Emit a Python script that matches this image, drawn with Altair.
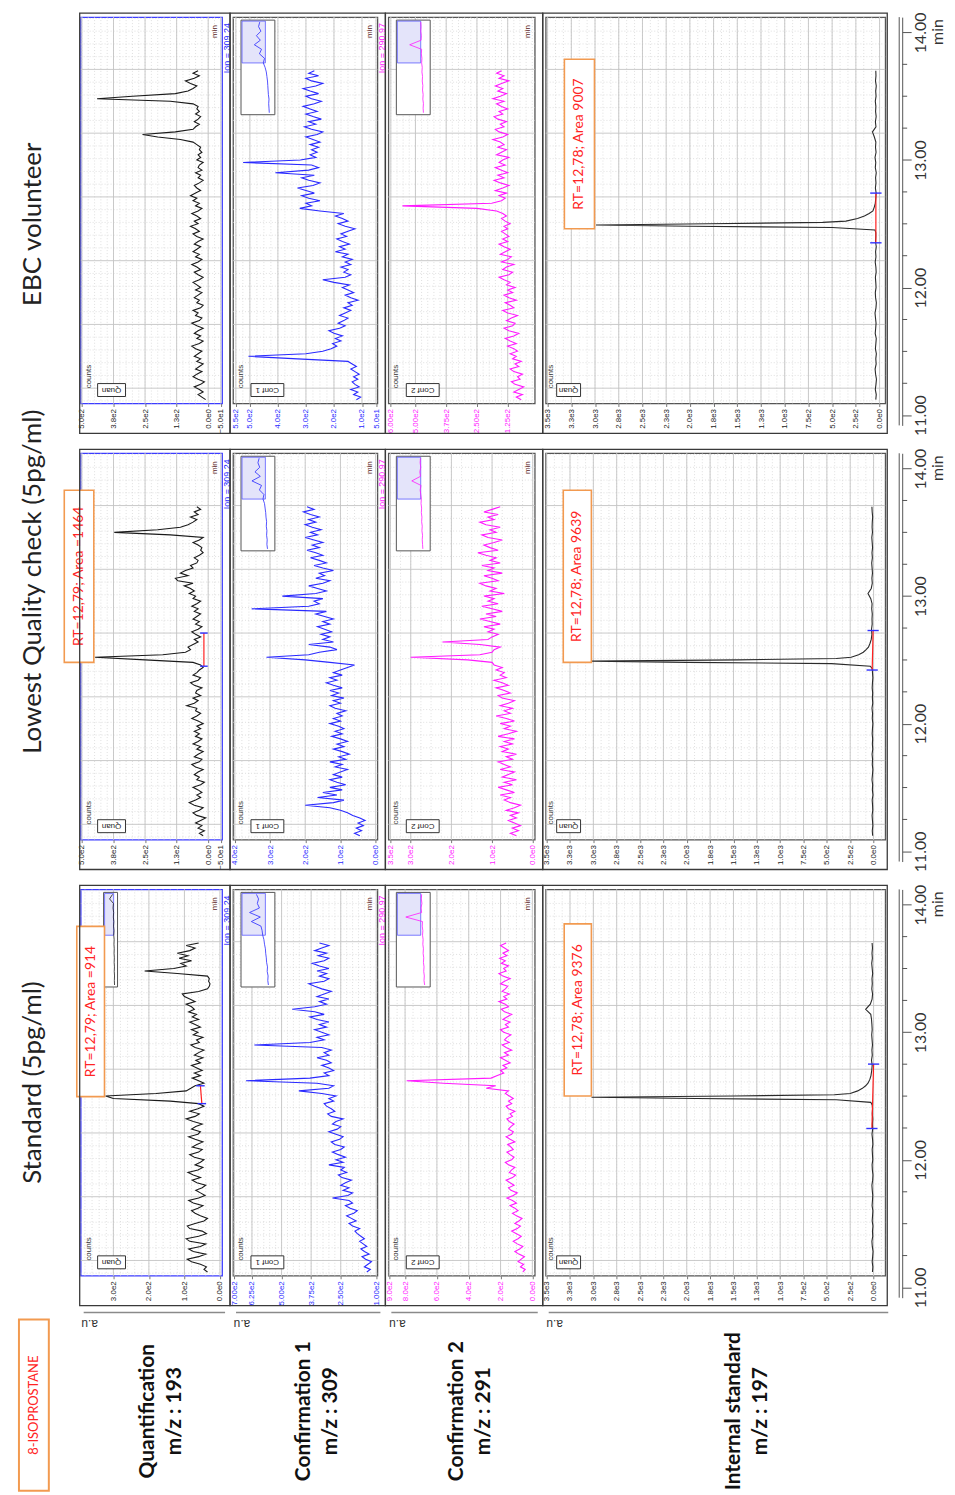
import math
import altair as alt
import pandas as pd

# ---------------- data ----------------
T0, DT = 11.12, 0.02   # sampling grid of the noisy traces (min)

STD_QUAN = [35,45,38,55,80,92,60,40,75,88, 55,40,85,95,60,38,50,85,92,70,
            45,35,55,70,80,62,48,75,88,60, 42,55,68,50,40,65,78,55,75,90,
            62,48,70,55,45,72,85,60,50,78, 65,48,70,88,62,55,80,68,50,75,
            95,70,58,85,62,45,60,140,300,322, 180,95,82,70,45,60,78,55,72,50,
            65,80,55,68,48,72,60,45,70,82, 58,66,48,75,62,80,55,70,85,60,
            78,66,88,72,80,95,70,85,100,106, 60,35,30,28,32,30,35,120,212,130,
            95,110,80,115,90,120,85,70,95,60]
STD_CONF1 = [140,125,150,135,120,145,160,130,150,165,140,155,170,150,165,180,
             190,170,200,215,185,205,225,195,180,210,230,200,215,285,
             220,200,240,215,250,230,205,245,260,225,250,235,300,
             240,270,230,260,285,250,235,275,290,255,240,270,300,265,250,285,270,240,290,305,275,290,310,320,
             280,300,270,330,427,300,280,350,650,380,300,320,280,
             300,330,290,310,350,300,320,290,330,
             615,380,320,350,300,330,360,310,340,300,350,380,320,360,455,360,310,340,300,350,
             320,290,330,360,385,320,300,340,310,350,300,340,370,320,300,345,310,360,330,300,340]
STD_CONF2 = [60,45,75,55,90,70,50,85,110,80,60,95,120,90,70,100,130,95,75,110,85,65,100,125,90,
             110,140,100,125,160,120,95,135,150,115,140,165,125,105,145,130,110,150,170,130,
             115,140,160,120,135,155,110,140,165,130,120,150,135,115,145,160,125,140,110,150,
             165,130,150,120,145,170,150,290,230,560,790,260,220,180,200,
             160,185,140,170,200,150,175,130,165,190,145,175,160,135,180,200,150,170,140,185,
             160,130,175,195,150,170,210,160,180,145,190,170,155,200,175,140,185,210,165,180,
             150,195,170,205,160,185,150,175,200,165]

LQC_QUAN = [20,35,15,40,25,50,30,10,45,60,35,20,55,75,50,30,45,25,40,60,30,15,45,35,55,
            40,20,50,65,35,25,55,40,20,45,30,60,40,25,50,35,55,30,45,20,40,65,45,30,50,
            45,85,55,40,60,30,50,45,25,55,70,40,30,60,45,35,20,
            30,60,250,448,180,90,70,80,
            60,40,55,30,50,65,40,25,50,35, 60,45,30,55,40,65,45,30,60,50,
            75,55,70,95,60,120,130,80,110,90, 60,70,45,40,55,35,20,30,25,40,
            60,35,20,150,372,200,110,80,60,45, 70,40,55,30,45]
LQC_CONF1 = [45,60,40,55,35,50,30,45,65,80, 100,130,200,120,90,165,110,150,95,130,
             85,110,130,95,120,100,80,115,95,130, 85,105,75,95,120,90,110,80,100,125,
             95,115,90,105,130,100,120,95,110,85, 115,130,100,120,90,125,105,130,95,120,
             140,110,130,95,120,100,80,60,130,200, 310,190,160,110,130,190,120,150,130,155,
             125,145,165,130,150,120,145,170,140,352, 190,160,175,150,265,170,140,165,190,150,
             130,170,145,160,120,150,175,140,160,185, 150,170,195,160,180,150,175,200,165,185,
             155,180,200,170,190,160,185,205,175,195]
LQC_CONF2 = [40,55,35,50,30,45,60,40,55,35,65,45,30,55,70,
             55,80,45,65,85,50,70,40,75,60,45,80,55,70,85,50,65,40,75,60,80,50,70,45,85,
             60,40,70,55,80,45,65,90,55,70,50,80,60,45,75,85,55,70,90,60,75,95,65,80,70,
             90,75,95,100,160,300,130,100,95,80,130,222,110,100,85,
             110,95,120,80,105,130,90,115,75,100,125,85,110,95,120,70,105,90,115,130,
             85,100,120,75,110,95,125,80,105,90,115,135,85,105,120,95,75,110,125,90,
             105,80,115,130,95,110,85,120,100,80]

EBC_QUAN = [10,25,40,20,35,55,30,15,40,60,45,25,50,35,20,45,30,55,40,25,50,65,35,20,45,
            30,55,40,20,45,65,35,25,50,40,60,30,20,45,35,55,40,25,50,30,
            45,60,35,20,40,55,30,45,65,40,25,50,35,60,45,30,55,40,20,45,
            60,35,50,70,40,55,30,45,65,40,25,50,35,60,45,70,50,30,45,55,
            35,20,40,30,50,25,40,35,20,45,30,40,25,35,30,
            45,60,110,200,260,130,60,50,35,55,40,30,50,35,45,40,60,150,440,300,
            130,80,60,45,70,90,55,35,60,40]
EBC_CONF1 = [120,105,130,115,140,110,125,135,115,130,110,125,140,120,135,150,
             330,505,300,240,210,190,205,175,195,170,200,218,180,160,185,165,150,180,160,
             140,165,135,150,114,140,160,130,150,170,145,200,240,160,140,165,150,175,140,160,135,
             170,150,195,160,180,145,170,190,155,
             175,150,125,160,185,150,170,195,165,
             250,322,280,300,250,290,315,270,300,330,275,250,290,315,270,409,290,255,280,524,
             320,265,285,260,280,255,285,250,275,300,260,240,280,305,265,290,245,275,300,260,
             285,310,270,245,280,300,255,285,310,265,240,280,300,255,290,270]
EBC_CONF2 = [70,90,65,100,80,60,95,110,75,85,65,100,115,80,95,70,105,90,115,85,
             100,125,90,115,135,100,80,120,140,105,95,130,110,85,125,145,100,115,135,90,120,140,105,125,95,130,
             115,140,160,120,105,145,130,100,150,125,110,155,135,115,140,160,125,145,120,135,150,
             125,140,115,135,150,130,145,170,250,553,190,150,135,
             160,130,175,145,120,155,180,140,165,125,150,175,135,160,145,120,170,150,130,165,
             140,155,185,145,125,160,175,140,155,130,165,180,145,160,125,150,170,140,185,155,
             130,165,145,175,150,120,160,140,170,150]

IS_TIME = [11.12, 11.16, 11.20, 11.24, 11.28, 11.32, 11.36, 11.40, 11.44, 11.48, 11.52,
           11.56, 11.60, 11.64, 11.68, 11.72, 11.76, 11.80, 11.84, 11.88, 11.92, 11.96,
           12.00, 12.04, 12.08, 12.12, 12.16, 12.20, 12.24, 12.28, 12.32, 12.36, 12.40,
           12.43, 12.45, 12.47, 12.48, 12.49, 12.50, 12.51, 12.52, 12.54, 12.56, 12.58,
           12.60, 12.63, 12.66,
           12.70, 12.74, 12.78, 12.82, 12.86, 12.90, 12.94, 12.98, 13.02, 13.06, 13.10,
           13.14, 13.18, 13.22, 13.26, 13.30, 13.34, 13.38, 13.42, 13.46, 13.50, 13.54,
           13.58, 13.62, 13.66, 13.70]
STD_IS = [12,8,15,10,6,14,18,9,12,7,15,11,8,16,12,9,14,18,10,7,13,16,9,12,15,8,11,17,10,13,9,14,11,
          15,30,400,1900,3020,1500,420,250,170,120,85,60,40,28,
          20,15,22,14,18,12,16,20,15,18,22,30,85,35,16,11,19,14,17,10,15,20,13,17,12,16]
LQC_IS = [10,14,8,12,16,9,11,15,7,13,10,17,12,8,14,11,16,9,13,10,15,12,8,14,11,17,9,13,10,15,12,8,12,
          14,35,450,2000,3020,1450,400,240,160,110,80,55,38,25,
          18,22,15,17,14,20,16,30,60,25,14,18,12,16,20,13,17,11,15,19,12,16,14,10,15,18]
EBC_IS = [40,35,45,38,33,42,47,36,40,34,44,39,35,46,41,37,43,48,38,34,42,45,37,40,44,36,39,46,38,42,35,43,40,
          40,48,500,2000,2990,1800,600,355,232,160,110,70,56,45,
          40,36,44,38,42,35,45,40,48,37,43,39,55,75,38,44,36,42,39,45,37,41,35,43,38,40]

# overview insets: fraction of the overview run (0 = start) and relative intensity
INSET_T = [0.0, 0.05, 0.1, 0.15, 0.2, 0.25, 0.3, 0.35, 0.4, 0.45, 0.5,
           0.55, 0.6, 0.65, 0.7, 0.75, 0.8, 0.85, 0.9, 0.95, 1.0]
INS_STD_QUAN = [0.10,0.12,0.10,0.13,0.11,0.14,0.12,0.15,0.13,0.16,0.14,0.18,0.15,0.20,0.17,0.22,0.19,0.25,0.21,0.60,0.30]
INS_STD_C1 = [0.15,0.17,0.16,0.19,0.18,0.21,0.22,0.24,0.25,0.28,0.30,0.34,0.36,0.40,0.72,0.42,0.78,0.45,0.52,0.48,0.55]
INS_STD_C2 = [0.12,0.14,0.13,0.15,0.14,0.16,0.15,0.17,0.16,0.18,0.17,0.19,0.18,0.20,0.19,0.75,0.22,0.24,0.21,0.23,0.22]
INS_LQC_C1 = [0.18,0.20,0.19,0.21,0.20,0.22,0.21,0.23,0.24,0.26,0.28,0.33,0.30,0.45,0.38,0.70,0.42,0.60,0.44,0.50,0.46]
INS_LQC_C2 = [0.18,0.19,0.20,0.19,0.21,0.20,0.22,0.21,0.23,0.22,0.24,0.23,0.25,0.27,0.24,0.55,0.26,0.28,0.25,0.27,0.26]
INS_EBC_C1 = [0.12,0.13,0.14,0.13,0.15,0.16,0.17,0.18,0.20,0.22,0.26,0.32,0.28,0.45,0.38,0.62,0.42,0.55,0.40,0.48,0.44]
INS_EBC_C2 = [0.16,0.17,0.16,0.18,0.17,0.19,0.18,0.20,0.19,0.21,0.20,0.22,0.21,0.23,0.22,0.62,0.24,0.23,0.25,0.24,0.25]

IS_LABELS = [0, 250, 500, 750, 1000, 1250, 1500, 1750, 2000, 2250, 2500, 2750, 3000, 3250, 3500]
MAJOR_T = [11.21, 11.71, 12.21, 12.71, 13.21, 13.71]
MINOR_T = [11.11, 11.31, 11.41, 11.51, 11.61, 11.81, 11.91, 12.01, 12.11, 12.31, 12.41,
           12.51, 12.61, 12.81, 12.91, 13.01, 13.11, 13.31, 13.41, 13.51, 13.61, 13.81,
           13.91, 14.01, 14.11]
TIME_LABELS = [11, 12, 13, 14]
TIME_QUARTERS = [11.25, 11.5, 11.75, 12.25, 12.5, 12.75, 13.25, 13.5, 13.75]

COL_TITLES = ["EBC volunteer", "Lowest Quality check (5pg/ml)", "Standard (5pg/ml)"]
ROW_LABELS = ["Quantification\nm/z : 193", "Confirmation 1\nm/z : 309",
              "Confirmation 2\nm/z : 291", "Internal standard\nm/z : 197"]

# ---------------- layout / style ----------------
TMIN, TMAX = 11.09, 14.12
PH = 388
AXH = 410
W_T, W_Q, W_C1, W_C2, W_IS, W_AX = 61, 142, 145, 147, 341, 6
BLACK, BLUE, MAG = "#1a1a1a", "#2a2aff", "#ff1aff"
ORANGE, RED = "#f29a50", "#ff2424"
SMALL = "Liberation Sans"
BIG = "Lato"


def series(values, times=None):
    if times is None:
        times = [round(T0 + DT * i, 2) for i in range(len(values))]
    return pd.DataFrame({"t": times, "v": values})


def steps(lo, hi, step):
    out, k = [], math.ceil(lo / step)
    while k * step <= hi:
        out.append(round(k * step, 3))
        k += 1
    return out


def one():
    return pd.DataFrame({"a": [0]})


def panel(df, color, dom, labels, fmt, lab_col, minor_step, width, border, tag,
          tag_x, count_x, frame_x, annot=None, integ=None, inset=None, ion=None,
          show_min=True):
    xs = alt.Scale(domain=dom, reverse=True, nice=False, zero=False)
    ys = alt.Scale(domain=[TMIN, TMAX], nice=False, zero=False)
    xax = alt.Axis(values=labels,
                   labelExpr=f"replace(format(datum.value, '{fmt}'), 'e+', 'e')",
                   labelAngle=270, labelAlign="right", labelBaseline="middle",
                   labelFontSize=8, labelFont=SMALL, labelColor=lab_col, labelPadding=2,
                   labelFlush=False, labelOverlap=False, tickSize=3, tickColor="#777",
                   domain=False, grid=False, title=None)

    def X(f):
        return alt.X(f"{f}:Q", scale=xs, axis=xax)

    def Y(f):
        return alt.Y(f"{f}:Q", scale=ys, axis=None)

    L = []
    L.append(alt.Chart(pd.DataFrame({"v": steps(dom[0], dom[1], minor_step)}))
             .mark_rule(color="#d2d2d2", strokeDash=[1, 2], strokeWidth=0.7).encode(x=X("v")))
    L.append(alt.Chart(pd.DataFrame({"t": MINOR_T}))
             .mark_rule(color="#d2d2d2", strokeDash=[1, 2], strokeWidth=0.7).encode(y=Y("t")))
    L.append(alt.Chart(pd.DataFrame({"v": labels}))
             .mark_rule(color="#c4c4c4", strokeWidth=0.9).encode(x=X("v")))
    L.append(alt.Chart(pd.DataFrame({"t": MAJOR_T}))
             .mark_rule(color="#c4c4c4", strokeWidth=0.9).encode(y=Y("t")))
    if inset is not None:
        x1, x2, _ = inset
        L.append(alt.Chart(one()).mark_rect(fill="white", stroke="#555", strokeWidth=1)
                 .encode(x=alt.value(x1), x2=alt.value(x2), y=alt.value(3), y2=alt.value(98)))
        L.append(alt.Chart(one()).mark_rect(fill="#e4e4fa", stroke="#5a5aff", strokeWidth=0.8)
                 .encode(x=alt.value(x1 + 1), x2=alt.value(x1 + 0.72 * (x2 - x1)),
                         y=alt.value(4), y2=alt.value(46)))
    L.append(alt.Chart(df).mark_line(color=color, strokeWidth=1.1)
             .encode(x=X("v"), y=Y("t"), order="t:Q"))
    if integ is not None:
        (va, ta), (vb, tb), dv = integ
        L.append(alt.Chart(pd.DataFrame({"v": [va], "v2": [vb], "t": [ta], "t2": [tb]}))
                 .mark_rule(color="#ff2020", strokeWidth=1.2)
                 .encode(x=X("v"), x2="v2:Q", y=Y("t"), y2="t2:Q"))
        L.append(alt.Chart(pd.DataFrame({"v": [va - dv, vb - dv], "v2": [va + dv, vb + dv],
                                         "t": [ta, tb]}))
                 .mark_rule(color="#3030ff", strokeWidth=1.4)
                 .encode(x=X("v"), x2="v2:Q", y=Y("t")))
    if annot is not None:
        v1, v2, t1, t2, txt = annot
        L.append(alt.Chart(pd.DataFrame({"v": [v1], "v2": [v2], "t": [t1], "t2": [t2]}))
                 .mark_rect(fill="white", stroke=ORANGE, strokeWidth=1.6)
                 .encode(x=X("v"), x2="v2:Q", y=Y("t"), y2="t2:Q"))
        L.append(alt.Chart(pd.DataFrame({"v": [(v1 + v2) / 2], "t": [(t1 + t2) / 2], "s": [txt]}))
                 .mark_text(angle=270, fontSize=14, font=BIG, color=RED,
                            align="center", baseline="middle")
                 .encode(x=X("v"), y=Y("t"), text="s:N"))
    # small header texts of the instrument plot
    L.append(alt.Chart(pd.DataFrame({"s": ["counts"]}))
             .mark_text(angle=270, fontSize=8, font=SMALL, color="#333",
                        align="center", baseline="middle")
             .encode(x=alt.value(count_x), y=alt.value(PH - 27), text="s:N"))
    L.append(alt.Chart(one()).mark_rect(fill="white", stroke="#333", strokeWidth=1)
             .encode(x=alt.value(tag_x[0]), x2=alt.value(tag_x[1]),
                     y=alt.value(PH - 20), y2=alt.value(PH - 7)))
    L.append(alt.Chart(pd.DataFrame({"s": [tag]}))
             .mark_text(angle=180, fontSize=8, font=SMALL, color="#222",
                        align="center", baseline="middle")
             .encode(x=alt.value((tag_x[0] + tag_x[1]) / 2), y=alt.value(PH - 13.5), text="s:N"))
    if show_min:
        L.append(alt.Chart(pd.DataFrame({"s": ["min"]}))
                 .mark_text(angle=270, fontSize=8, font=SMALL, color="#5c2525",
                            align="right", baseline="middle")
                 .encode(x=alt.value(width - 7), y=alt.value(8), text="s:N"))
    if ion is not None:
        itxt, icol = ion
        L.append(alt.Chart(pd.DataFrame({"s": [itxt]}))
                 .mark_text(angle=270, fontSize=9, font=SMALL, color=icol,
                            align="right", baseline="middle")
                 .encode(x=alt.value(-6), y=alt.value(6), text="s:N"))
    L.append(alt.Chart(one()).mark_rect(fill="transparent", stroke="#3a3a3a", strokeWidth=1.3)
             .encode(x=alt.value(frame_x[0]), x2=alt.value(width + frame_x[1]),
                     y=alt.value(-4), y2=alt.value(PH + 30)))
    main = alt.layer(*L)
    if inset is not None:
        x1, x2, ivals = inset
        mini = (alt.Chart(pd.DataFrame({"f": INSET_T, "r": ivals}))
                .mark_line(color=color, strokeWidth=0.8)
                .encode(x=alt.X("r:Q", scale=alt.Scale(domain=[0, 1], range=[x2 - 2, x1 + 2]),
                                axis=None),
                        y=alt.Y("f:Q", scale=alt.Scale(domain=[0, 1], range=[96, 5]), axis=None),
                        order="f:Q"))
        main = alt.layer(main, mini).resolve_scale(x="independent", y="independent")
    return main.properties(
        width=width, height=PH,
        view=alt.ViewBackground(stroke=border, strokeWidth=1.3))


def title_cell(text, yc):
    return (alt.Chart(pd.DataFrame({"s": [text]}))
            .mark_text(angle=270, fontSize=26, font=BIG, color="#222",
                       align="center", baseline="middle")
            .encode(x=alt.value(24), y=alt.value(yc), text="s:N")
            .properties(width=W_T, height=AXH, view=alt.ViewBackground(stroke="transparent")))


def time_axis_cell():
    ys = alt.Scale(domain=[10.92, 14.12], nice=False, zero=False)
    yax = alt.Axis(orient="right", values=TIME_LABELS, format=".2f", labelAngle=270,
                   labelAlign="center", labelBaseline="middle", labelPadding=9,
                   labelFontSize=16, labelFont=BIG, labelColor="#333", tickSize=9,
                   tickColor="#555", domainColor="#555", labelFlush=False,
                   labelOverlap=False, grid=False, title=None)
    base = (alt.Chart(pd.DataFrame({"t": TIME_LABELS})).mark_point(opacity=0)
            .encode(y=alt.Y("t:Q", scale=ys, axis=yax)))
    minor = (alt.Chart(pd.DataFrame({"t": TIME_QUARTERS})).mark_rule(color="#555")
             .encode(y=alt.Y("t:Q", scale=ys, axis=yax), x=alt.value(W_AX), x2=alt.value(W_AX + 5)))
    dline = (alt.Chart(one()).mark_rule(color="#555")
             .encode(x=alt.value(W_AX - 3), y=alt.value(0), y2=alt.value(AXH)))
    mint = (alt.Chart(pd.DataFrame({"s": ["min"]}))
            .mark_text(angle=270, fontSize=16, font=BIG, color="#333",
                       align="right", baseline="middle")
            .encode(x=alt.value(W_AX + 36), y=alt.value(2), text="s:N"))
    return alt.layer(base, minor, dline, mint).properties(
        width=W_AX, height=AXH, view=alt.ViewBackground(stroke="transparent"))


def label_cell(width, text, xc):
    rule = (alt.Chart(one()).mark_rule(color="#8a8a8a", strokeWidth=1.5)
            .encode(x=alt.value(3), x2=alt.value(width + 3), y=alt.value(-13)))
    au = (alt.Chart(pd.DataFrame({"s": ["a.u"]}))
          .mark_text(angle=180, fontSize=12, font=SMALL, color="#333",
                     align="center", baseline="middle")
          .encode(x=alt.value(9), y=alt.value(-2), text="s:N"))
    lab = (alt.Chart(pd.DataFrame({"s": [text]}))
           .mark_text(angle=270, fontSize=21, fontWeight="bold", font=BIG, color="#111",
                      lineBreak="\n", lineHeight=27, align="center", baseline="middle")
           .encode(x=alt.value(xc), y=alt.value(86), text="s:N"))
    return alt.layer(rule, au, lab).properties(
        width=width, height=166, view=alt.ViewBackground(stroke="transparent"))


def iso_cell():
    box = (alt.Chart(one()).mark_rect(fill="transparent", stroke=ORANGE, strokeWidth=2)
           .encode(x=alt.value(10), x2=alt.value(40), y=alt.value(-6), y2=alt.value(166)))
    txt = (alt.Chart(pd.DataFrame({"s": ["8-ISOPROSTANE"]}))
           .mark_text(angle=270, fontSize=13, font=BIG, color=RED,
                      align="center", baseline="middle")
           .encode(x=alt.value(25), y=alt.value(80), text="s:N"))
    return alt.layer(box, txt).properties(
        width=W_T, height=166, view=alt.ViewBackground(stroke="transparent"))


def empty_cell(width, height):
    return (alt.Chart(pd.DataFrame({"s": [""]})).mark_text().encode(text="s:N")
            .properties(width=width, height=height, view=alt.ViewBackground(stroke="transparent")))


def quan(df, dom, labels, annot=None, integ=None, inset=None):
    return panel(df, BLACK, dom, labels, ".1e", "#222", 25 if dom[1] > 450 else 20, W_Q,
                 "#3c3cff", "Quan", (17, 45), 8, (-1, 8), annot=annot, integ=integ,
                 inset=inset)


def conf1(df, dom, labels, fmt, minor, ins):
    return panel(df, BLUE, dom, labels, fmt, BLUE, minor, W_C1, "#555", "Conf 1",
                 (18, 51), 8, (-3, 8), inset=(8, 42, ins), ion=("Ion = 309.24", BLUE))


def conf2(df, dom, labels, fmt, minor, ins):
    return panel(df, MAG, dom, labels, fmt, MAG, minor, W_C2, "#555", "Conf 2",
                 (18, 51), 8, (-3, 8), inset=(8, 42, ins), ion=("Ion = 290.97", MAG))


def istd(df, dom, annot, integ):
    return panel(df, "#2a2a2a", dom, IS_LABELS, ".1e", "#222", 250 / 3, W_IS, "#555", "Quan",
                 (11, 35), 5, (-3, 2), annot=annot, integ=integ, show_min=False)


Q_LAB = [-50, 0, 125, 250, 375, 500]

cells = []
# EBC volunteer
cells += [title_cell(COL_TITLES[0], 208),
          quan(series(EBC_QUAN), [-55, 505], Q_LAB),
          conf1(series(EBC_CONF1), [45, 560], [50, 100, 200, 300, 400, 500, 550], ".1e", 25,
                INS_EBC_C1),
          conf2(series(EBC_CONF2), [15, 610], [125, 250, 375, 500, 600], ".2e", 25, INS_EBC_C2),
          istd(series(EBC_IS, IS_TIME), [-60, 3520],
               (3006, 3323, 12.46, 13.79, "RT=12,78; Area 9007"),
               ((39, 12.35), (39, 12.74), 60)),
          time_axis_cell()]
# Lowest quality check
cells += [title_cell(COL_TITLES[1], 129),
          quan(series(LQC_QUAN), [-55, 505], Q_LAB,
               annot=(453, 570, 12.48, 13.83, "RT=12,79; Area =1464"),
               integ=((17, 12.45), (17, 12.71), 15)),
          conf1(series(LQC_CONF1), [-5, 405], [0, 100, 200, 300, 400], ".1e", 20, INS_LQC_C1),
          conf2(series(LQC_CONF2), [-5, 355], [0, 100, 200, 300, 350], ".1e", 25, INS_LQC_C2),
          istd(series(LQC_IS, IS_TIME), [-125, 3510],
               (3021, 3322, 12.48, 13.83, "RT=12,78; Area 9639"),
               ((15, 12.42), (5, 12.73), 60)),
          time_axis_cell()]
# Standard
cells += [title_cell(COL_TITLES[2], 194),
          quan(series(STD_QUAN), [-6, 392], [0, 100, 200, 300],
               annot=(325, 403, 12.495, 13.83, "RT=12,79; Area =914"),
               integ=((51, 12.44), (55, 12.58), 12), inset=(23, 37, INS_STD_QUAN)),
          conf1(series(STD_CONF1), [95, 705], [100, 250, 375, 500, 625, 700], ".2e", 25,
                INS_STD_C1),
          conf2(series(STD_CONF2), [-15, 905], [0, 200, 400, 600, 800, 900], ".1e", 50,
                INS_STD_C2),
          istd(series(STD_IS, IS_TIME), [-125, 3510],
               (3021, 3312, 12.50, 13.85, "RT=12,78; Area 9376"),
               ((18, 12.245), (0, 12.75), 60)),
          time_axis_cell()]
# bottom labels
cells += [iso_cell(),
          label_cell(W_Q, ROW_LABELS[0], 68),
          label_cell(W_C1, ROW_LABELS[1], 71),
          label_cell(W_C2, ROW_LABELS[2], 69),
          label_cell(W_IS, ROW_LABELS[3], 189),
          empty_cell(W_AX, 166)]

chart = (alt.concat(*cells, columns=6, spacing={"row": 28, "column": 11},
                    bounds="flush", align="each")
         .properties(padding={"left": 0, "top": 0, "right": 0, "bottom": 0})
         .configure_view(stroke="transparent")
         .configure(font=SMALL, background="white"))

chart.save("out.html", embed_options={"renderer": "svg", "actions": False})
